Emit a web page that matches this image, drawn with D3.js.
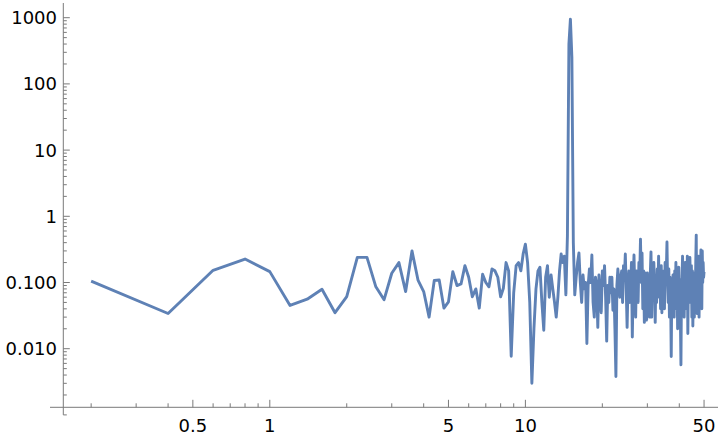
<!DOCTYPE html>
<html>
<head>
<meta charset="utf-8">
<script src="https://cdn.jsdelivr.net/npm/d3@7"></script>
<style>
  html, body { margin: 0; padding: 0; background: #fff; }
  svg { display: block; }
  text { font-family: "DejaVu Sans", sans-serif; font-size: 18px; fill: #000; }
</style>
</head>
<body>
<svg id="chart" width="720" height="438"></svg>
<script>
// Frequencies: 0.2, 0.4, ..., 50 (step 0.2)
const step = 0.2;
const amplitudes = [
  0.105, 0.034, 0.153, 0.226, 0.146, 0.045, 0.056, 0.079, 0.035, 0.061,
  0.24, 0.24, 0.086, 0.055, 0.138, 0.20, 0.073, 0.30, 0.109, 0.073,
  0.030, 0.107, 0.109, 0.041, 0.051, 0.146, 0.090, 0.095, 0.18, 0.12,
  0.061, 0.080, 0.041, 0.133, 0.10, 0.086, 0.16, 0.15, 0.12, 0.061,
  0.082, 0.20, 0.15, 0.0077, 0.07, 0.18, 0.20, 0.15, 0.27, 0.38,
  0.20, 0.05, 0.003, 0.02, 0.08, 0.15, 0.17, 0.05, 0.019, 0.12,
  0.18, 0.06, 0.13, 0.08, 0.05, 0.03, 0.06, 0.15, 0.27, 0.20,
  0.25, 0.065, 0.5, 400, 950, 250, 0.4, 0.065, 0.12, 0.2,
  0.28, 0.1, 0.05, 0.13, 0.08, 0.1, 0.012, 0.09, 0.16, 0.1,
  0.26, 0.05, 0.03, 0.12, 0.09, 0.021, 0.13, 0.06, 0.035, 0.15,
  0.09, 0.18, 0.06, 0.013, 0.09, 0.05, 0.12, 0.07, 0.12, 0.038,
  0.08, 0.02, 0.0038, 0.09, 0.16, 0.1, 0.06, 0.12, 0.15, 0.05,
  0.18, 0.12, 0.27, 0.08, 0.021, 0.09, 0.15, 0.05, 0.08, 0.2,
  0.015, 0.1, 0.26, 0.07, 0.03, 0.15, 0.09, 0.05, 0.2, 0.12,
  0.45, 0.1, 0.28, 0.04, 0.15, 0.025, 0.14, 0.06, 0.027, 0.14,
  0.04, 0.1, 0.03, 0.13, 0.29, 0.03, 0.15, 0.07, 0.2, 0.1,
  0.025, 0.12, 0.05, 0.16, 0.08, 0.25, 0.06, 0.12, 0.04, 0.18,
  0.035, 0.15, 0.07, 0.12, 0.04, 0.2, 0.09, 0.15, 0.41, 0.1,
  0.05, 0.16, 0.03, 0.12, 0.06, 0.0076, 0.1, 0.05, 0.13, 0.08,
  0.03, 0.15, 0.07, 0.2, 0.04, 0.14, 0.02, 0.09, 0.17, 0.05,
  0.11, 0.03, 0.0057, 0.08, 0.12, 0.25, 0.05, 0.13, 0.03, 0.1,
  0.2, 0.06, 0.15, 0.04, 0.25, 0.017, 0.1, 0.2, 0.05, 0.24,
  0.12, 0.06, 0.18, 0.03, 0.15, 0.022, 0.08, 0.14, 0.03, 0.1,
  0.06, 0.2, 0.52, 0.04, 0.034, 0.12, 0.06, 0.25, 0.03, 0.1,
  0.2, 0.07, 0.31, 0.1, 0.04, 0.3, 0.1, 0.2, 0.12, 0.145
];
const frequencies = amplitudes.map((_, i) => +(step * (i + 1)).toFixed(1));

const xMajorTicks = [0.5, 1, 5, 10, 50];
const xMajorLabels = ["0.5", "1", "5", "10", "50"];
const xMinorTicks = [0.2, 0.3, 0.4, 0.6, 0.7, 0.8, 0.9, 2, 3, 4, 6, 7, 8, 9, 20, 30, 40];
const yMajorTicks = [0.01, 0.1, 1, 10, 100, 1000];
const yMajorLabels = ["0.010", "0.100", "1", "10", "100", "1000"];
const yMinorTicks = [];
[0.001, 0.01, 0.1, 1, 10, 100].forEach(d => { for (let m = 2; m <= 9; m++) yMinorTicks.push(+(d * m).toPrecision(3)); });
yMinorTicks.push(0.001);

const svg = d3.select("#chart");
const X1 = 269.8, XDEC = 255.6;   // pixel of x=1, pixels per decade
const Y1 = 216.3, YDEC = 66.2;    // pixel of y=1, pixels per decade
const x = d3.scaleLog().domain([0.1, 100]).range([X1 - XDEC, X1 + 2 * XDEC]);
const y = d3.scaleLog().domain([0.001, 1000]).range([Y1 + 3 * YDEC, Y1 - 3 * YDEC]);

const axisColor = "#7a7a7a";
const xAxisY = 407.3, yAxisX = 63.3;
const yTop = 3, yBottom = y(0.001);
const xLeft = 50, xRight = 718;

// Axes lines
svg.append("line").attr("x1", xLeft).attr("x2", xRight).attr("y1", xAxisY).attr("y2", xAxisY)
  .attr("stroke", axisColor).attr("stroke-width", 1);
svg.append("line").attr("x1", yAxisX).attr("x2", yAxisX).attr("y1", yTop).attr("y2", yBottom)
  .attr("stroke", axisColor).attr("stroke-width", 1);

// X ticks
svg.append("g").selectAll("line.xmaj").data(xMajorTicks).join("line")
  .attr("x1", d => x(d)).attr("x2", d => x(d)).attr("y1", xAxisY).attr("y2", xAxisY - 7.5)
  .attr("stroke", axisColor);
svg.append("g").selectAll("line.xmin").data(xMinorTicks).join("line")
  .attr("x1", d => x(d)).attr("x2", d => x(d)).attr("y1", xAxisY).attr("y2", xAxisY - 4)
  .attr("stroke", axisColor);
svg.append("g").selectAll("text").data(xMajorTicks).join("text")
  .attr("x", d => x(d)).attr("y", 432).attr("text-anchor", "middle")
  .text((d, i) => xMajorLabels[i]);

// Y ticks
svg.append("g").selectAll("line").data(yMajorTicks).join("line")
  .attr("x1", yAxisX).attr("x2", yAxisX + 6.5).attr("y1", d => y(d)).attr("y2", d => y(d))
  .attr("stroke", axisColor);
svg.append("g").selectAll("line").data(yMinorTicks.filter(d => y(d) >= yTop && y(d) <= yBottom + 0.5)).join("line")
  .attr("x1", yAxisX).attr("x2", yAxisX + 3.5).attr("y1", d => y(d)).attr("y2", d => y(d))
  .attr("stroke", axisColor);
svg.append("g").selectAll("text").data(yMajorTicks).join("text")
  .attr("x", 57).attr("y", d => y(d)).attr("dy", "0.36em").attr("text-anchor", "end")
  .text((d, i) => yMajorLabels[i]);

// Data line
const line = d3.line().x((d, i) => x(frequencies[i])).y(d => y(d));
svg.append("path").datum(amplitudes)
  .attr("d", line)
  .attr("fill", "none")
  .attr("stroke", "#5E81B5")
  .attr("stroke-width", 2.9)
  .attr("stroke-linejoin", "round");
</script>
</body>
</html>
